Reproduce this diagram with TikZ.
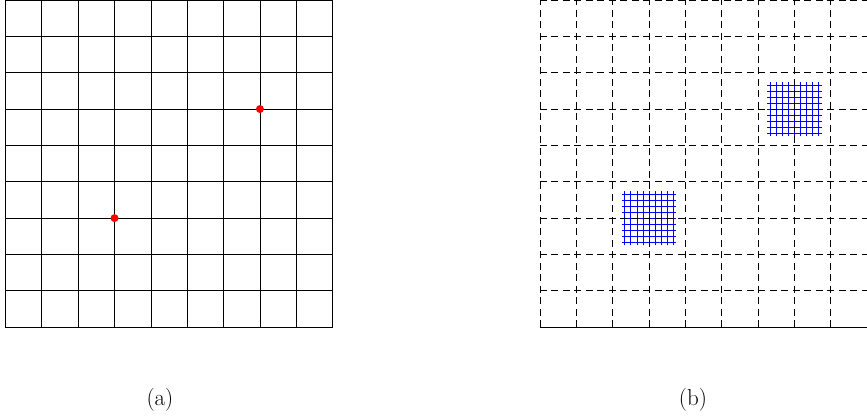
\documentclass[tikz,border=0pt]{standalone}
\begin{document}
\begin{tikzpicture}[
  gridline/.style={line width=0.5pt, black},
  dashline/.style={line width=0.5pt, black, dash pattern=on 5.5pt off 3.5pt},
  fine/.style={line width=0.4pt, blue},
  reddot/.style={circle, fill=red, inner sep=0pt, minimum size=0.22cm},
  caplabel/.style={font=\fontsize{18}{21}\selectfont, inner sep=0pt}
]
\useasboundingbox (0,-2.5) rectangle (23.85,9);
% left grid
\begin{scope}[xshift=0.15cm]
  \draw[gridline] (0,0) grid (9,9);
  \node[reddot] (p1) at (3,3) {};
  \node[reddot] (p2) at (7,6) {};
\end{scope}
% right grid
\begin{scope}[xshift=14.85cm]
  \draw[fine, step=1/6] (2.25,2.25) grid (3.75,3.75);
  \draw[fine, step=1/6] (6.25,5.25) grid (7.75,6.75);
  \foreach \i in {0,...,9} {
    \draw[dashline] (\i,0) -- (\i,9);
  }
  \foreach \j in {1,...,9} {
    \draw[dashline] (0,\j) -- (9,\j);
  }
  \draw[gridline] (0,0) -- (9,0);
\end{scope}
\node[caplabel] (la) at (4.40,-2.0) {(a)};
\node[caplabel] (lb) at (19.06,-2.0) {(b)};
\end{tikzpicture}
\end{document}
